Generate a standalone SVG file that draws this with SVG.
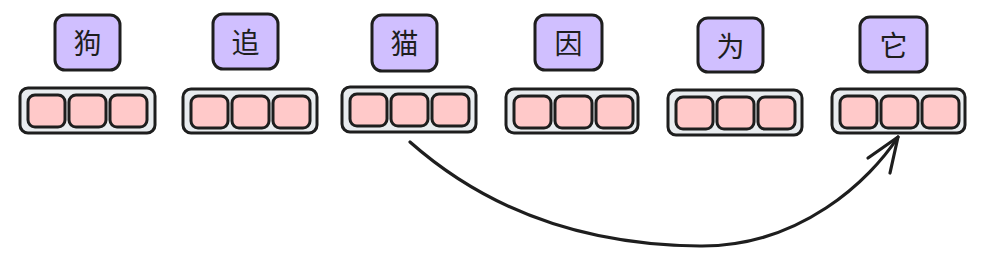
<svg xmlns="http://www.w3.org/2000/svg" width="983" height="261" viewBox="0 0 983 261">
<style>
.tok{fill:#d0bfff;stroke:#1e1e1e;stroke-width:3}
.vec{fill:#e9ecef;stroke:#1e1e1e;stroke-width:3}
.cell{fill:#ffc9c9;stroke:#1e1e1e;stroke-width:3}
.lbl{font-family:"Noto Sans CJK SC",sans-serif;font-size:28px;fill:#1e1e1e;text-anchor:middle;dominant-baseline:central}
.conn{fill:none;stroke:#1e1e1e;stroke-width:3.2;stroke-linecap:round;stroke-linejoin:round}
</style>
<defs>
<g id="cells">
<rect class="cell" x="8" y="7" width="37" height="32" rx="7"/>
<rect class="cell" x="49" y="7" width="37" height="32" rx="7"/>
<rect class="cell" x="90" y="7" width="37" height="32" rx="7"/>
</g>
</defs>
<g id="tok-gou"><rect class="tok" x="55" y="15" width="65" height="55" rx="10"/><text class="lbl" x="87.5" y="42">狗</text></g>
<g id="tok-zhui"><rect class="tok" x="213" y="14" width="65" height="55" rx="10"/><text class="lbl" x="245.5" y="41">追</text></g>
<g id="tok-mao"><rect class="tok" x="372" y="15" width="65" height="56" rx="10"/><text class="lbl" x="404.5" y="42">猫</text></g>
<g id="tok-yin"><rect class="tok" x="535" y="15" width="67" height="55" rx="10"/><text class="lbl" x="568.5" y="42">因</text></g>
<g id="tok-wei"><rect class="tok" x="698" y="18" width="65" height="54" rx="10"/><text class="lbl" x="730.5" y="45">为</text></g>
<g id="tok-ta"><rect class="tok" x="860" y="17" width="67" height="55" rx="10"/><text class="lbl" x="893.5" y="44">它</text></g>
<g id="vec-gou" transform="translate(20,88)"><rect class="vec" x="0" y="0" width="135" height="45" rx="8"/><use href="#cells"/></g>
<g id="vec-zhui" transform="translate(183,89)"><rect class="vec" x="0" y="0" width="134" height="44" rx="8"/><use href="#cells"/></g>
<g id="vec-mao" transform="translate(342,87)"><rect class="vec" x="0" y="0" width="134" height="45" rx="8"/><use href="#cells"/></g>
<g id="vec-yin" transform="translate(506,89)"><rect class="vec" x="0" y="0" width="132" height="44" rx="8"/><use href="#cells"/></g>
<g id="vec-wei" transform="translate(668,90)"><rect class="vec" x="0" y="0" width="134" height="45" rx="8"/><use href="#cells"/></g>
<g id="vec-ta" transform="translate(832,89)"><rect class="vec" x="0" y="0" width="133" height="44" rx="8"/><use href="#cells"/></g>
<g id="connectors">
<path class="conn" d="M410,142 C470,195 560,245 700,246 C800,247 870,180 898,137"/>
<path class="conn" d="M868,158 L898,137 L890,173"/>
</g>
</svg>
